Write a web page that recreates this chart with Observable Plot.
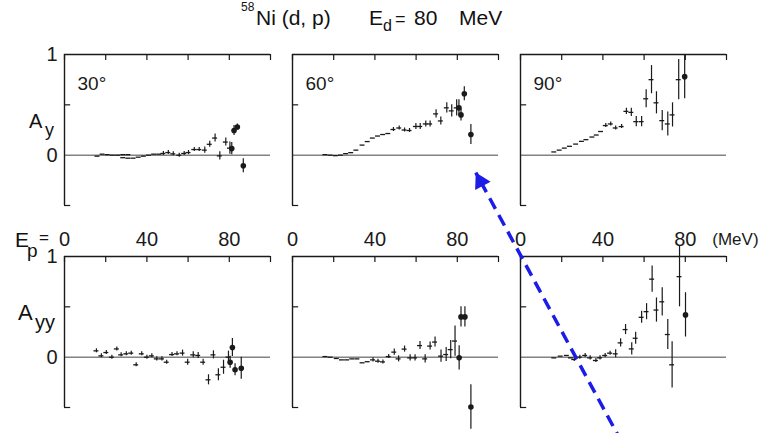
<!DOCTYPE html>
<html><head><meta charset="utf-8">
<script src="https://cdn.jsdelivr.net/npm/d3@7"></script>
<script src="https://cdn.jsdelivr.net/npm/@observablehq/plot@0.6"></script>
<style>
html,body{margin:0;padding:0;background:#fff;overflow:hidden;}
#wrap{position:relative;width:769px;height:433px;font-family:"Liberation Sans",Arial,sans-serif;color:#111;}
#wrap svg{position:absolute;left:0;top:0;}
.lab{position:absolute;line-height:1;white-space:pre;}
</style></head><body>
<div id="wrap">
  <span class="lab" style="left:241px;top:1px;font-size:12px">58</span>
  <span class="lab" style="left:256px;top:7px;font-size:21px">Ni (d, p)</span>
  <span class="lab" style="left:369px;top:7px;font-size:21px">E</span>
  <span class="lab" style="left:383px;top:18px;font-size:16px">d</span>
  <span class="lab" style="left:395px;top:10px;font-size:18px">=</span>
  <span class="lab" style="left:414px;top:7px;font-size:21px">80</span>
  <span class="lab" style="left:459px;top:7px;font-size:21px">MeV</span>
  <span class="lab" style="left:29px;top:111px;font-size:20px">A</span>
  <span class="lab" style="left:45px;top:121px;font-size:18px">y</span>
  <span class="lab" style="left:18px;top:302px;font-size:22px">A</span>
  <span class="lab" style="left:35px;top:312px;font-size:20px">yy</span>
  <span class="lab" style="left:15px;top:229px;font-size:21px">E</span>
  <span class="lab" style="left:27px;top:241px;font-size:19px">p</span>
  <span class="lab" style="left:39px;top:229px;font-size:17px">=</span>
</div>
<script>
// ---- categories & ticks ----
const angles = ["30°", "60°", "90°"];
const observables = ["Ay", "Ayy"];
const xTicks = [0, 20, 40, 60, 80, 100];
const xLabelTicks = [0, 40, 80];
const unitLabel = ["(MeV)"];
const yMinorTicks = [-0.5, 0.5];
const yLabelValues = [1, 0];
const yLabelTexts = ["1", "0"];
const binHalf = 1.2; // half energy-bin width (MeV)

// ---- Ay, 30° ----
const ay30_lowE = [16, 18.5, 21, 23.5, 26, 28.5, 31, 28.5, 31, 33.5, 36, 38.5, 41, 43.5, 46];
const ay30_lowV = [-0.01, 0.01, 0.005, 0.0, 0.0, 0.005, 0.005, -0.025, -0.03, -0.03, -0.02, -0.01, 0.0, 0.01, 0.01];
const ay30_E = [48, 50.4, 52.8, 55.7, 58.1, 60.2, 63, 65.4, 68.1, 70.5, 73.1, 75.4, 78.3, 80.3];
const ay30_V = [0.017, 0.026, 0.013, 0.0, 0.017, 0.026, 0.056, 0.056, 0.05, 0.108, 0.17, -0.007, 0.13, 0.07];
const ay30_Err = [0.02, 0.02, 0.02, 0.02, 0.02, 0.02, 0.02, 0.02, 0.03, 0.03, 0.04, 0.04, 0.04, 0.06];
const ay30_dotE = [81.2, 82.3, 83.9, 86.8];
const ay30_dotV = [0.065, 0.245, 0.28, -0.105];
const ay30_dotErr = [0.06, 0.05, 0.03, 0.07];

// ---- Ay, 60° ----
const ay60_lowE = [16, 18.5, 21, 23.5, 26, 28.5, 31, 34, 36.5, 39, 41.5, 44, 46.5];
const ay60_lowV = [0.005, 0.0, -0.005, 0.0, 0.015, 0.025, 0.05, 0.1, 0.135, 0.17, 0.19, 0.205, 0.215];
const ay60_E = [49, 51.8, 54.4, 56.8, 59.9, 62, 64.7, 66.8, 69.7, 72, 74.9, 77.3, 79.7];
const ay60_V = [0.255, 0.27, 0.25, 0.245, 0.285, 0.285, 0.31, 0.31, 0.41, 0.34, 0.47, 0.44, 0.47];
const ay60_Err = [0.02, 0.02, 0.02, 0.02, 0.03, 0.03, 0.03, 0.03, 0.04, 0.04, 0.05, 0.06, 0.08];
const ay60_dotE = [80.8, 81.8, 83.4, 86.6];
const ay60_dotV = [0.47, 0.40, 0.61, 0.205];
const ay60_dotErr = [0.08, 0.06, 0.07, 0.1];

// ---- Ay, 90° ----
const ay90_lowE = [16.4, 19, 21.5, 24, 27, 29.8, 32, 34.9, 37, 39.1];
const ay90_lowV = [0.032, 0.05, 0.07, 0.088, 0.11, 0.137, 0.154, 0.18, 0.2, 0.235];
const ay90_E = [41.4, 43.8, 46.2, 49.1, 51.4, 53.8, 56.2, 58.8, 61, 63.6, 66, 68.8, 71.5, 73.8, 76.8];
const ay90_V = [0.294, 0.31, 0.27, 0.284, 0.435, 0.425, 0.333, 0.333, 0.56, 0.75, 0.52, 0.343, 0.31, 0.40, 0.75];
const ay90_Err = [0.02, 0.02, 0.02, 0.02, 0.03, 0.04, 0.05, 0.05, 0.09, 0.14, 0.11, 0.1, 0.12, 0.12, 0.2];
const ay90_dotE = [79.7];
const ay90_dotV = [0.78];
const ay90_dotErr = [0.22];

// ---- Ayy, 30° ----
const ayy30_E = [15.5, 17.9, 20.3, 23, 25.4, 27.5, 30, 32.4, 34.8, 37.5, 40, 42.4, 44.8, 47.3, 49.6, 52.2, 54.6, 57.3, 59.8, 62.5, 64.9, 67.3, 69.9, 72.3, 74.7, 77.2, 79.6];
const ayy30_V = [0.063, 0.013, 0.046, 0.0, 0.082, 0.023, 0.033, 0.04, -0.076, 0.033, 0.0, 0.013, -0.017, -0.017, -0.05, 0.026, 0.033, 0.04, -0.05, 0.023, 0.017, -0.05, -0.225, 0.023, -0.175, -0.1, 0.0];
const ayy30_Err = [0.02, 0.02, 0.02, 0.02, 0.02, 0.02, 0.02, 0.02, 0.02, 0.02, 0.02, 0.02, 0.02, 0.02, 0.02, 0.02, 0.02, 0.03, 0.03, 0.03, 0.03, 0.03, 0.05, 0.04, 0.06, 0.07, 0.06];
const ayy30_dotE = [80.4, 81.5, 82.8, 85.8];
const ayy30_dotV = [-0.05, 0.096, -0.125, -0.11];
const ayy30_dotErr = [0.06, 0.09, 0.06, 0.11];

// ---- Ayy, 60° ----
const ayy60_lowE = [16, 18.5, 21.5, 24, 26.5, 29, 31.5, 34, 36.5];
const ayy60_lowV = [0.006, 0.0, -0.013, -0.027, -0.027, -0.017, -0.017, -0.056, -0.045];
const ayy60_E = [39.1, 41.5, 43.9, 46.7, 49.4, 51.5, 54.4, 57.1, 59.5, 61.9, 64.4, 66.8, 69.2, 72.1, 74.6, 76.8, 78.9];
const ayy60_V = [-0.027, -0.04, -0.047, 0.006, 0.05, -0.017, 0.08, -0.007, -0.007, 0.115, -0.017, 0.11, 0.15, 0.01, 0.026, 0.075, 0.16];
const ayy60_Err = [0.02, 0.02, 0.02, 0.02, 0.03, 0.03, 0.03, 0.03, 0.03, 0.04, 0.04, 0.04, 0.05, 0.06, 0.07, 0.09, 0.15];
const ayy60_dotE = [80.9, 81.8, 83.7, 86.6];
const ayy60_dotV = [-0.007, 0.40, 0.40, -0.495];
const ayy60_dotErr = [0.12, 0.1, 0.1, 0.22];

// ---- Ayy, 90° ----
const ayy90_lowE = [16.4, 19.5, 22.5, 24.5];
const ayy90_lowV = [-0.007, 0.01, 0.017, -0.007];
const ayy90_E = [26.1, 28.8, 31.4, 33.8, 36.6, 38.6, 41.1, 43.5, 46.2, 48.6, 51, 54, 55.9, 58.8, 61.2, 63.9, 66, 68.8, 71.5, 73.6, 77.2];
const ayy90_V = [-0.023, 0.0, 0.017, -0.007, -0.033, -0.007, 0.017, 0.04, 0.033, 0.142, 0.274, 0.082, 0.188, 0.396, 0.452, 0.775, 0.468, 0.55, 0.225, -0.076, 0.80];
const ayy90_Err = [0.02, 0.02, 0.02, 0.02, 0.02, 0.02, 0.02, 0.02, 0.04, 0.04, 0.05, 0.06, 0.06, 0.06, 0.08, 0.13, 0.12, 0.14, 0.15, 0.23, 0.3];
const ayy90_dotE = [80.1];
const ayy90_dotV = [0.42];
const ayy90_dotErr = [0.22];

// ---- annotation arrow (in the 90°/Ayy panel's data coordinates) ----
const arrowTail = {E: 49.3, v: -0.85};
const arrowTip = {E: -21.7, v: 1.834};

// ---- build table ----
const points = [];
function addSet(angle, obs, kind, E, V, Err) {
  E.forEach((e, i) => points.push({angle, obs, kind, E: e, v: V[i], err: Err ? Err[i] : 0}));
}
addSet("30°", "Ay", "bin", ay30_lowE, ay30_lowV);
addSet("30°", "Ay", "cross", ay30_E, ay30_V, ay30_Err);
addSet("30°", "Ay", "dot", ay30_dotE, ay30_dotV, ay30_dotErr);
addSet("60°", "Ay", "bin", ay60_lowE, ay60_lowV);
addSet("60°", "Ay", "cross", ay60_E, ay60_V, ay60_Err);
addSet("60°", "Ay", "dot", ay60_dotE, ay60_dotV, ay60_dotErr);
addSet("90°", "Ay", "bin", ay90_lowE, ay90_lowV);
addSet("90°", "Ay", "cross", ay90_E, ay90_V, ay90_Err);
addSet("90°", "Ay", "dot", ay90_dotE, ay90_dotV, ay90_dotErr);
addSet("30°", "Ayy", "cross", ayy30_E, ayy30_V, ayy30_Err);
addSet("30°", "Ayy", "dot", ayy30_dotE, ayy30_dotV, ayy30_dotErr);
addSet("60°", "Ayy", "bin", ayy60_lowE, ayy60_lowV);
addSet("60°", "Ayy", "cross", ayy60_E, ayy60_V, ayy60_Err);
addSet("60°", "Ayy", "dot", ayy60_dotE, ayy60_dotV, ayy60_dotErr);
addSet("90°", "Ayy", "bin", ayy90_lowE, ayy90_lowV);
addSet("90°", "Ayy", "cross", ayy90_E, ayy90_V, ayy90_Err);
addSet("90°", "Ayy", "dot", ayy90_dotE, ayy90_dotV, ayy90_dotErr);

const ink = "#1a1a1a";
const blue = "#1c1ce8";
const tickLenY = 0.06;
const tickLenX = 3;
const arrowFacet = {fx: () => "90°", fy: () => "Ayy"};

const chart = Plot.plot({
  width: 769, height: 433,
  marginLeft: 63, marginRight: 41, marginTop: 53, marginBottom: 25,
  x: {domain: [0, 100], axis: null},
  y: {domain: [-0.5, 1], axis: null},
  fx: {domain: angles, paddingInner: 0.096, paddingOuter: 0, axis: null},
  fy: {domain: observables, paddingInner: 0.251, paddingOuter: 0, axis: null},
  style: {fontFamily: "Liberation Sans, Arial, sans-serif", fontSize: "20px", background: "transparent", overflow: "visible", color: ink},
  marks: [
    Plot.ruleY([0], {stroke: "#444", strokeWidth: 1}),
    Plot.ruleY([1], {stroke: ink, strokeWidth: 1.4}),
    Plot.ruleX([0], {y1: -0.5, y2: 1, stroke: ink, strokeWidth: 1.4}),
    Plot.ruleX(xTicks, {x: d => d, y1: 1, y2: 1 - tickLenY, stroke: ink, strokeWidth: 1.2}),
    Plot.ruleY(yMinorTicks, {y: d => d, x1: 0, x2: tickLenX, stroke: ink, strokeWidth: 1.2}),
    // data: horizontal bin bars
    Plot.ruleY(points, {filter: d => d.kind !== "dot", fx: "angle", fy: "obs", y: "v",
      x1: d => d.E - binHalf, x2: d => d.E + binHalf, stroke: ink, strokeWidth: 1.3}),
    // data: vertical error bars
    Plot.ruleX(points, {filter: d => d.err > 0, fx: "angle", fy: "obs", x: "E",
      y1: d => d.v - d.err, y2: d => d.v + d.err, stroke: ink, strokeWidth: 1.2}),
    // data: filled dots
    Plot.dot(points, {filter: d => d.kind === "dot", fx: "angle", fy: "obs", x: "E", y: "v",
      r: 2.8, fill: ink, stroke: "none"}),
    // y tick labels (first column)
    Plot.text(yLabelValues, {fx: () => "30°", x: 0, y: d => d, text: (d, i) => yLabelTexts[i],
      dx: -7, textAnchor: "end", fontSize: 20, fill: ink}),
    // angle labels
    Plot.text(angles, {fx: d => d, fy: () => "Ay", frameAnchor: "top-left", text: d => d,
      dx: 13, dy: 22, textAnchor: "start", fontSize: 19, fill: ink}),
    // energy labels above the lower row
    Plot.text(xLabelTicks, {fy: () => "Ayy", x: d => d, y: 1, text: d => String(d),
      dy: -17, fontSize: 20, fill: ink}),
    Plot.text(unitLabel, {fx: () => "90°", fy: () => "Ayy", x: () => xLabelTicks[xLabelTicks.length - 1], y: 1,
      text: d => d, dx: 27, dy: -17, textAnchor: "start", fontSize: 17, fill: ink}),
    // annotation arrow
    Plot.link([arrowTail], {...arrowFacet, x1: "E", y1: "v", x2: () => arrowTip.E, y2: () => arrowTip.v,
      stroke: blue, strokeWidth: 3.5, strokeDasharray: "12,7"}),
    Plot.dot([arrowTip], {...arrowFacet, x: "E", y: "v", symbol: "triangle", r: 6.5,
      fill: blue, stroke: "none", rotate: -28, dx: 4.7, dy: 8.9})
  ]
});
document.getElementById("wrap").prepend(chart);
</script>
</body></html>
